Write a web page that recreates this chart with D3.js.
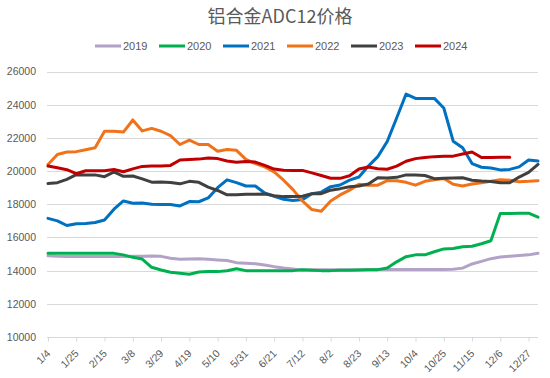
<!DOCTYPE html>
<html><head><meta charset="utf-8">
<script src="https://cdn.jsdelivr.net/npm/d3@7/dist/d3.min.js"></script>
<style>
body{margin:0;background:#fff;}
svg{display:block;font-family:"Liberation Sans","DejaVu Sans",sans-serif;}
</style></head>
<body><svg id="c" width="550" height="378"></svg>
<script>
const categories = ["1/4","1/11","1/18","1/25","2/1","2/8","2/15","2/22","3/1","3/8","3/15","3/22","3/29","4/5","4/12","4/19","4/26","5/3","5/10","5/17","5/24","5/31","6/7","6/14","6/21","6/28","7/5","7/12","7/19","7/26","8/2","8/9","8/16","8/23","8/30","9/6","9/13","9/20","9/27","10/4","10/11","10/18","10/25","11/1","11/8","11/15","11/22","11/29","12/6","12/13","12/20","12/27","12/31"];
const tickLabels = ["1/4","1/25","2/15","3/8","3/29","4/19","5/10","5/31","6/21","7/12","8/2","8/23","9/13","10/4","10/25","11/15","12/6","12/27"];
const yTicks = [10000,12000,14000,16000,18000,20000,22000,24000,26000];
const seriesNames = ["2019","2020","2021","2022","2023","2024"];
const seriesColors = ["#B3A2C7","#00B050","#0070C0","#F0731A","#404040","#C00000"];

const s2019 = [14890,14860,14850,14850,14850,14850,14850,14850,14850,14860,14870,14880,14860,14750,14690,14700,14710,14680,14640,14610,14480,14450,14420,14340,14240,14160,14100,14040,14060,14060,14060,14060,14060,14060,14070,14070,14070,14070,14070,14070,14070,14070,14070,14080,14150,14400,14560,14720,14820,14870,14910,14950,15050];
const s2020 = [15050,15050,15050,15050,15050,15050,15050,15040,14950,14800,14700,14200,14040,13900,13840,13780,13920,13940,13940,13990,14110,14000,14000,14000,14000,14000,14000,14050,14020,14000,14000,14020,14030,14040,14060,14060,14160,14530,14840,14950,14950,15140,15310,15330,15440,15470,15620,15800,17450,17440,17460,17460,17220];
const s2021 = [17150,17000,16720,16830,16840,16900,17050,17700,18200,18060,18080,18000,17990,17980,17900,18160,18150,18380,19000,19470,19300,19100,19100,18680,18480,18300,18230,18280,18630,18730,19060,19160,19450,19640,20300,20870,21780,23200,24640,24380,24380,24380,23800,21800,21400,20450,20230,20190,20070,20100,20250,20670,20600];
const s2022 = [20400,21000,21150,21170,21280,21400,22400,22400,22350,23080,22420,22570,22400,22130,21600,21870,21600,21600,21200,21300,21250,20700,20450,20250,19950,19450,18880,18200,17680,17580,18200,18560,18850,19200,19150,19150,19420,19420,19320,19150,19380,19480,19550,19200,19100,19220,19300,19380,19480,19450,19360,19380,19420];
const s2023 = [19250,19300,19500,19780,19770,19770,19660,19950,19680,19700,19530,19330,19340,19310,19230,19380,19320,19030,18830,18570,18570,18600,18610,18620,18520,18460,18460,18480,18640,18640,18850,18940,19050,19100,19220,19600,19580,19620,19770,19770,19730,19540,19570,19580,19600,19450,19400,19370,19290,19290,19640,19920,20400];
const s2024 = [20300,20200,20080,19840,20020,20020,20020,20090,19960,20130,20280,20310,20300,20340,20670,20700,20720,20790,20750,20610,20530,20570,20540,20340,20120,20050,20030,20040,19890,19730,19570,19560,19720,20120,20250,20140,20110,20300,20590,20750,20820,20870,20890,20900,21030,21150,20820,20810,20830,20830];
const seriesValues = [s2019,s2020,s2021,s2022,s2023,s2024];

(function(){
const svg = d3.select("#c");
const pl = 47, pr = 538, pt = 71.5, pb = 337;
const x = d3.scalePoint().domain(categories).range([pl+1, pr]);
const y = d3.scaleLinear().domain([10000,26000]).range([pb, pt]);

svg.append("g").selectAll("line").data(yTicks.slice(1)).join("line")
  .attr("x1", pl).attr("x2", pr)
  .attr("y1", d=>Math.round(y(d))+0.5).attr("y2", d=>Math.round(y(d))+0.5)
  .attr("stroke","#D9D9D9").attr("stroke-width",1);

const yAxis = d3.axisLeft(y).tickValues(yTicks).tickSize(0).tickPadding(0).tickFormat(d3.format("d"));
const yg = svg.append("g").attr("transform",`translate(36,0)`).call(yAxis);
yg.select(".domain").remove();
yg.selectAll("text").attr("fill","#595959").attr("font-size","10.5px").attr("font-family","Liberation Sans, sans-serif");

const xAxis = d3.axisBottom(x).tickValues(tickLabels).tickSize(4).tickSizeOuter(0);
const xg = svg.append("g").attr("transform",`translate(0,${Math.round(pb)+0.5})`).call(xAxis);
xg.select(".domain").attr("stroke","#D9D9D9").attr("d",`M${pl},0H${pr}`);
xg.selectAll(".tick line").attr("stroke","#D9D9D9");
xg.selectAll("text")
  .attr("fill","#595959").attr("font-size","10.5px")
  .attr("text-anchor","end")
  .attr("transform","translate(0,14) rotate(-45)")
  .attr("dy","0.35em").attr("y",0).attr("x",0);

const line = d3.line().x((d,i)=>x(categories[i])).y(d=>y(d));
seriesValues.forEach((vals,si)=>{
  svg.append("path").datum(vals)
    .attr("fill","none").attr("stroke",seriesColors[si])
    .attr("stroke-width",3).attr("stroke-linejoin","round").attr("stroke-linecap","round")
    .attr("d",line);
});

svg.append("text").attr("x",280).attr("y",23).attr("text-anchor","middle")
  .attr("font-size","18px").attr("fill","#595959")
  .attr("font-family","Noto Sans CJK SC, sans-serif")
  .text("铝合金ADC12价格");

const lg = svg.append("g").attr("transform","translate(95,46)");
seriesNames.forEach((n,i)=>{
  const g = lg.append("g").attr("transform",`translate(${i*64},0)`);
  g.append("line").attr("x1",0).attr("x2",26).attr("y1",0).attr("y2",0)
    .attr("stroke",seriesColors[i]).attr("stroke-width",3);
  g.append("text").attr("x",28).attr("y",4).attr("font-size","11px").attr("fill","#595959").text(n);
});
})();
</script></body></html>
